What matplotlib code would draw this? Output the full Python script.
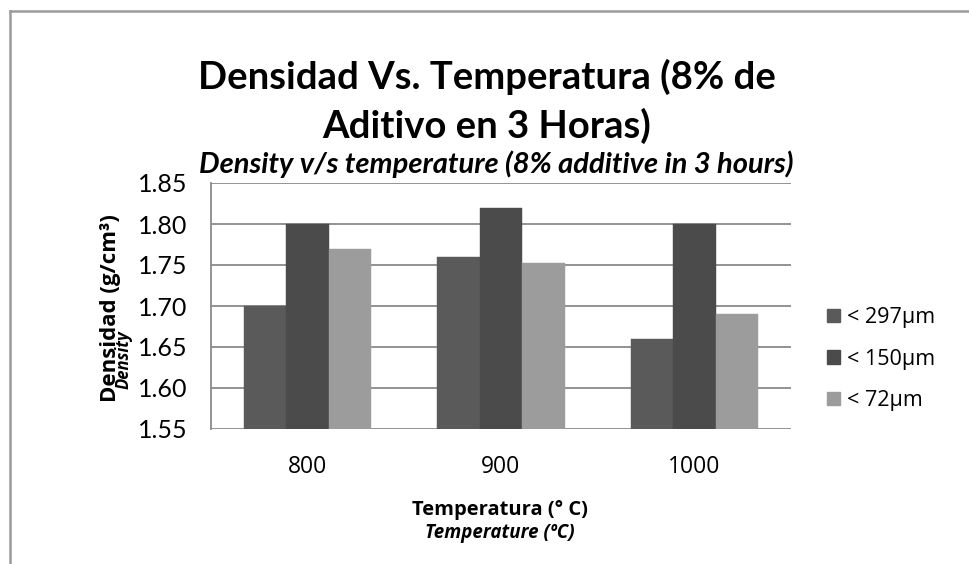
import matplotlib
matplotlib.use("Agg")
import matplotlib.pyplot as plt
import numpy as np
from matplotlib.lines import Line2D
from matplotlib.patches import Patch

categories = ["800", "900", "1000"]
series_names = ["< 297µm", "< 150µm", "< 72µm"]
s297 = [1.70, 1.76, 1.66]
s150 = [1.80, 1.82, 1.80]
s72 = [1.77, 1.752, 1.69]
yticks = [1.55, 1.60, 1.65, 1.70, 1.75, 1.80, 1.85]
colors = ["#5a5a5a", "#4b4b4b", "#9c9c9c"]

W, H = 970, 564
fig = plt.figure(figsize=(W / 100, H / 100), dpi=100)
fig.patch.set_facecolor("white")

def fx(px):
    return px / W

def fy(py):
    return 1 - py / H

ax = fig.add_axes([fx(211), fy(429), fx(791) - fx(211), fy(183) - fy(429)])

x = np.arange(len(categories))
bw = 0.22
for i, (vals, c) in enumerate(zip([s297, s150, s72], colors)):
    ax.bar(x + (i - 1) * bw, np.array(vals) - 1.55, bottom=1.55, width=bw,
           color=c, edgecolor=c, linewidth=0.3, zorder=3)

ax.set_xlim(-0.5, 2.5)
ax.set_ylim(1.55, 1.85)
ax.set_yticks(yticks)
ax.set_yticklabels([f"{v:.2f}" for v in yticks])
ax.set_xticks(x)
ax.set_xticklabels(categories)
ax.grid(axis="y", color="#8a8a8a", linewidth=1.3, zorder=0)
ax.set_axisbelow(True)
for s in ["top", "right", "bottom"]:
    ax.spines[s].set_visible(False)
ax.spines["left"].set_color("#8a8a8a")
ax.spines["left"].set_linewidth(1.3)
ax.tick_params(axis="both", length=0)
ax.tick_params(axis="y", pad=17)
ax.tick_params(axis="x", pad=19)
for lab in ax.get_yticklabels():
    lab.set_fontfamily(["Lato", "DejaVu Sans"])
    lab.set_fontsize(18)
for lab in ax.get_xticklabels():
    lab.set_fontfamily(["Open Sans", "DejaVu Sans"])
    lab.set_fontsize(16.5)

# Titles
tfam = ["Lato", "DejaVu Sans"]
fig.text(fx(487), fy(77), "Densidad Vs. Temperatura (8% de", ha="center", va="center",
         fontsize=27.5, fontweight="bold", family=tfam)
fig.text(fx(487), fy(126), "Aditivo en 3 Horas)", ha="center", va="center",
         fontsize=27.5, fontweight="bold", family=tfam)
fig.text(fx(496), fy(164), "Density v/s temperature (8% additive in 3 hours)", ha="center",
         va="center", fontsize=21, fontweight="bold", fontstyle="italic", family=tfam)

# Axis labels
fig.text(fx(111), fy(308), "Densidad (g/cm³)", rotation=90, ha="center", va="center",
         fontsize=16, fontweight="bold", family=["Open Sans", "DejaVu Sans"])
fig.text(fx(124), fy(360), "Density", rotation=90, ha="center", va="center",
         fontsize=12, fontweight="bold", fontstyle="italic", family=["Open Sans", "DejaVu Sans"])
fig.text(fx(500), fy(510), "Temperatura (° C)", ha="center", va="center",
         fontsize=14.5, fontweight="bold", family=["Open Sans", "DejaVu Sans"])
fig.text(fx(500), fy(533), "Temperature (ºC)", ha="center", va="center",
         fontsize=13.5, fontweight="bold", fontstyle="italic", family=["Open Sans", "DejaVu Sans"])

# Legend
handles = [Patch(facecolor=c, edgecolor=c) for c in colors]
leg = fig.legend(handles, series_names, loc="center left",
                 bbox_to_anchor=(fx(808), fy(359)), frameon=False,
                 prop={"family": ["Open Sans", "DejaVu Sans"], "size": 15.5},
                 handlelength=0.6, handleheight=0.6, handletextpad=0.3,
                 labelspacing=0.95)

# Outer frame (top and left)
fig.add_artist(Line2D([fx(10), 1.0], [fy(11), fy(11)], color="#9a9a9a", linewidth=1.8))
fig.add_artist(Line2D([fx(10), fx(10)], [fy(11), 0.0], color="#9a9a9a", linewidth=1.8))

fig.savefig("out.png", dpi=100)
